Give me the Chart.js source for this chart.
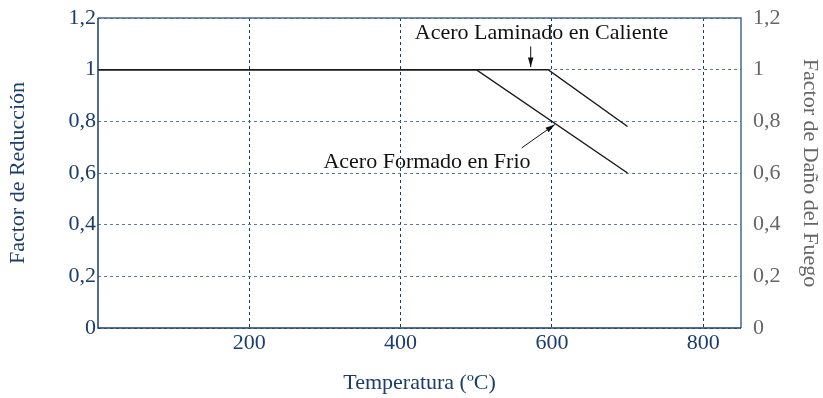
<!DOCTYPE html>
<html>
<head>
<meta charset="utf-8">
<script src="https://cdn.jsdelivr.net/npm/chart.js@4.4.1/dist/chart.umd.min.js"></script>
<style>
  html, body { margin: 0; padding: 0; background: #fff; }
  #wrap { width: 823px; height: 398px; position: relative; }
</style>
</head>
<body>
<div id="wrap"><canvas id="chart"></canvas></div>
<script>
// Temperatura (ºC) vs factor de reducción
const xTicks = [200, 400, 600, 800];
const yTicks = [0, 0.2, 0.4, 0.6, 0.8, 1, 1.2];

const laminadoTemp = [0, 595, 700];
const laminadoFactor = [1, 1, 0.78];

const formadoTemp = [0, 500, 700];
const formadoFactor = [1, 1, 0.6];

// annotations: text position and arrow (tail -> tip), in data units
const notes = [
    { text: 'Acero Laminado en Caliente', x: 754, y: 1.142, align: 'right', from: [572, 1.09], to: [572, 1.01] },
    { text: 'Acero Formado en Frio', x: 298, y: 0.643, align: 'left', from: [560, 0.697], to: [604, 0.788] }
];

const blue = '#1b3d6e';
const grey = '#666666';
const serif = "'Liberation Serif', 'DejaVu Serif', serif";

function toPoints(xs, ys) {
    return xs.map((x, i) => ({ x: x, y: ys[i] }));
}

const frameAndNotes = {
    id: 'frameAndNotes',
    afterDatasetsDraw(chart) {
        const ctx = chart.ctx;
        const a = chart.chartArea;
        const sx = chart.scales.x;
        const sy = chart.scales.y;
        ctx.save();
        // frame
        ctx.lineWidth = 1.5;
        ctx.strokeStyle = '#4a6a94';
        ctx.beginPath();
        ctx.moveTo(a.left, a.top);
        ctx.lineTo(a.right, a.top);
        ctx.lineTo(a.right, a.bottom);
        ctx.stroke();
        ctx.strokeStyle = blue;
        ctx.beginPath();
        ctx.moveTo(a.left, a.top);
        ctx.lineTo(a.left, a.bottom);
        ctx.lineTo(a.right, a.bottom);
        ctx.stroke();

        // notes
        ctx.fillStyle = '#111';
        ctx.strokeStyle = '#111';
        ctx.font = '22px ' + serif;
        ctx.textBaseline = 'middle';
        notes.forEach(n => {
            ctx.textAlign = n.align;
            ctx.fillText(n.text, sx.getPixelForValue(n.x), sy.getPixelForValue(n.y));
            const x1 = sx.getPixelForValue(n.from[0]), y1 = sy.getPixelForValue(n.from[1]);
            const x2 = sx.getPixelForValue(n.to[0]), y2 = sy.getPixelForValue(n.to[1]);
            const ang = Math.atan2(y2 - y1, x2 - x1);
            ctx.lineWidth = 1;
            ctx.beginPath();
            ctx.moveTo(x1, y1);
            ctx.lineTo(x2, y2);
            ctx.stroke();
            ctx.beginPath();
            ctx.moveTo(x2, y2);
            ctx.lineTo(x2 - 10 * Math.cos(ang - 0.28), y2 - 10 * Math.sin(ang - 0.28));
            ctx.lineTo(x2 - 10 * Math.cos(ang + 0.28), y2 - 10 * Math.sin(ang + 0.28));
            ctx.closePath();
            ctx.fill();
        });
        ctx.restore();
    }
};

function fmt(v) {
    return String(Math.round(v * 10) / 10).replace('.', ',');
}

new Chart(document.getElementById('chart'), {
    type: 'line',
    data: {
        datasets: [
            {
                label: 'Acero Laminado en Caliente',
                data: toPoints(laminadoTemp, laminadoFactor),
                borderColor: '#1a1a1a',
                borderWidth: 1.5,
                pointRadius: 0,
                tension: 0
            },
            {
                label: 'Acero Formado en Frio',
                data: toPoints(formadoTemp, formadoFactor),
                borderColor: '#1a1a1a',
                borderWidth: 1.5,
                pointRadius: 0,
                tension: 0
            }
        ]
    },
    options: {
        responsive: true,
        maintainAspectRatio: false,
        animation: false,
        layout: { padding: { top: 18, left: 0, right: 0, bottom: 0 } },
        plugins: {
            legend: { display: false },
            tooltip: { enabled: false }
        },
        scales: {
            x: {
                type: 'linear',
                min: 0,
                max: 850,
                afterBuildTicks: s => { s.ticks = xTicks.map(v => ({ value: v })); },
                afterFit: s => { s.height = 70; },
                border: { display: false, dash: [3, 3] },
                grid: { color: blue, lineWidth: 1, drawTicks: false },
                ticks: { color: blue, font: { family: serif, size: 22 }, padding: 2, maxRotation: 0 },
                title: {
                    display: true,
                    text: 'Temperatura (ºC)',
                    color: blue,
                    font: { family: serif, size: 22 },
                    padding: { top: 4, bottom: 2 }
                }
            },
            y: {
                position: 'left',
                min: 0,
                max: 1.2,
                afterBuildTicks: s => { s.ticks = yTicks.map(v => ({ value: v })); },
                afterFit: s => { s.width = 98; s.paddingTop = 0; },
                border: { display: false, dash: [3, 3] },
                grid: { color: '#5a79a3', lineWidth: 1, drawTicks: false },
                ticks: { color: blue, font: { family: serif, size: 22 }, padding: 2, callback: fmt },
                title: {
                    display: true,
                    text: 'Factor de Reducción',
                    color: blue,
                    font: { family: serif, size: 22 },
                    padding: { top: 5, bottom: 0 }
                }
            },
            y2: {
                position: 'right',
                min: 0,
                max: 1.2,
                afterBuildTicks: s => { s.ticks = yTicks.map(v => ({ value: v })); },
                afterFit: s => { s.width = 82; s.paddingTop = 0; },
                border: { display: false },
                grid: { display: false, drawTicks: false },
                ticks: { color: grey, font: { family: serif, size: 22 }, padding: 12, callback: fmt },
                title: {
                    display: true,
                    text: 'Factor de Daño del Fuego',
                    color: grey,
                    font: { family: serif, size: 22 },
                    padding: { top: 0, bottom: 0 }
                }
            }
        }
    },
    plugins: [frameAndNotes]
});
</script>
</body>
</html>
